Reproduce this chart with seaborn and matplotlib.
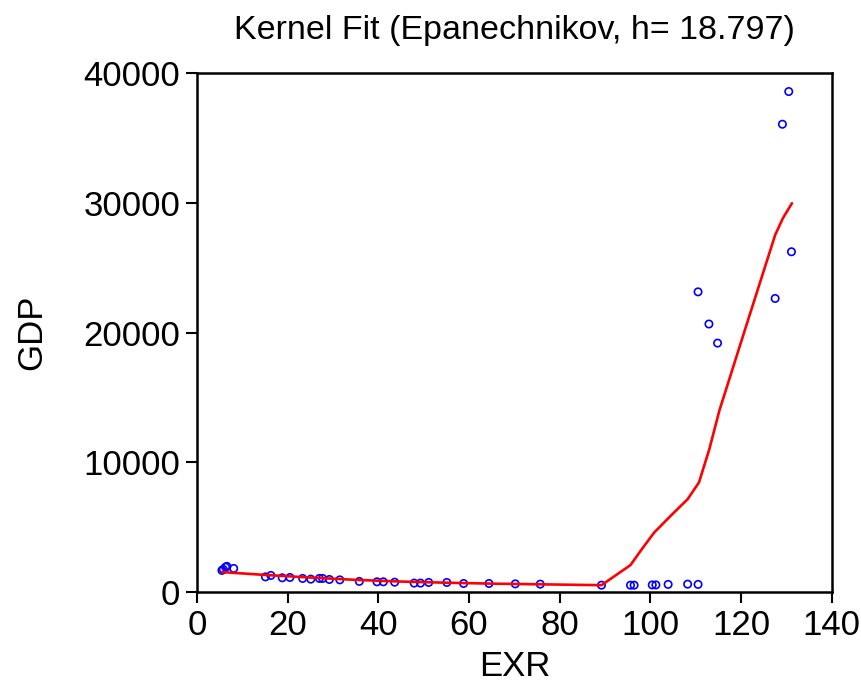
import numpy as np
import pandas as pd
import matplotlib
matplotlib.use("Agg")
import matplotlib.pyplot as plt
import seaborn as sns

exr = [5.5, 5.8, 6.3, 6.6, 8.1, 15.1, 16.3, 18.8, 20.5, 23.3, 25.1, 27.0, 27.7,
       29.2, 31.5, 35.8, 39.7, 41.1, 43.6, 47.9, 49.3, 51.1, 55.1, 58.8, 64.4,
       70.2, 75.7, 89.2, 95.6, 96.4, 100.4, 101.2, 103.9, 108.2, 110.5,
       110.5, 112.9, 114.8, 127.5, 129.1, 130.5, 131.1]
gdp = [1680, 1760, 1930, 1990, 1830, 1180, 1290, 1110, 1135, 1060, 1005, 1060,
       1060, 980, 950, 830, 800, 800, 770, 700, 700, 750, 750, 670, 670,
       640, 620, 540, 540, 540, 560, 560, 600, 620, 600,
       23150, 20670, 19200, 22640, 36070, 38590, 26240]

# kernel fit curve
fit_x = [5.5, 15, 25, 35, 45, 55, 65, 75, 89.2, 95.6, 97.8, 100.8, 104.5,
         108.2, 110.7, 113.0, 115.2, 121.0, 127.5, 129.2, 131.2]
fit_y = [1550, 1330, 1130, 950, 820, 730, 660, 610, 540, 2090, 3170, 4590,
         5900, 7170, 8460, 11040, 14000, 20400, 27530, 28820, 29980]

x_ticks = [0, 20, 40, 60, 80, 100, 120, 140]
y_ticks = [0, 10000, 20000, 30000, 40000]

sns.set_style("ticks")
plt.rcParams['font.family'] = ['Liberation Sans', 'DejaVu Sans']
plt.rcParams['text.color'] = 'black'
plt.rcParams['axes.labelcolor'] = 'black'
plt.rcParams['xtick.color'] = 'black'
plt.rcParams['ytick.color'] = 'black'

pts = pd.DataFrame({'EXR': exr, 'GDP': gdp})
fit = pd.DataFrame({'EXR': fit_x, 'GDP': fit_y})

fig = plt.figure(figsize=(8.62, 6.91), dpi=100)
ax = fig.add_axes([0.2285, 0.143, 0.7365, 0.751])

sns.lineplot(data=fit, x='EXR', y='GDP', sort=False, estimator=None,
             color='red', linewidth=1.9, ax=ax)
sns.scatterplot(data=pts, x='EXR', y='GDP', marker='o', s=28,
                facecolors='none', edgecolor='blue', linewidth=1.2, ax=ax)

ax.set_xlim(0, 140)
ax.set_ylim(0, 40000)
ax.set_xticks(x_ticks)
ax.set_yticks(y_ticks)
ax.tick_params(direction='out', length=8, width=1.5, labelsize=25, pad=4)
for sp in ax.spines.values():
    sp.set_linewidth(1.8)
    sp.set_color('black')

ax.set_xlabel('EXR', fontsize=25, labelpad=6)
ax.set_ylabel('GDP', fontsize=25, labelpad=25)
ax.set_title('Kernel Fit (Epanechnikov, h= 18.797)', fontsize=24.5, pad=25)

fig.savefig('out.png', dpi=100)
